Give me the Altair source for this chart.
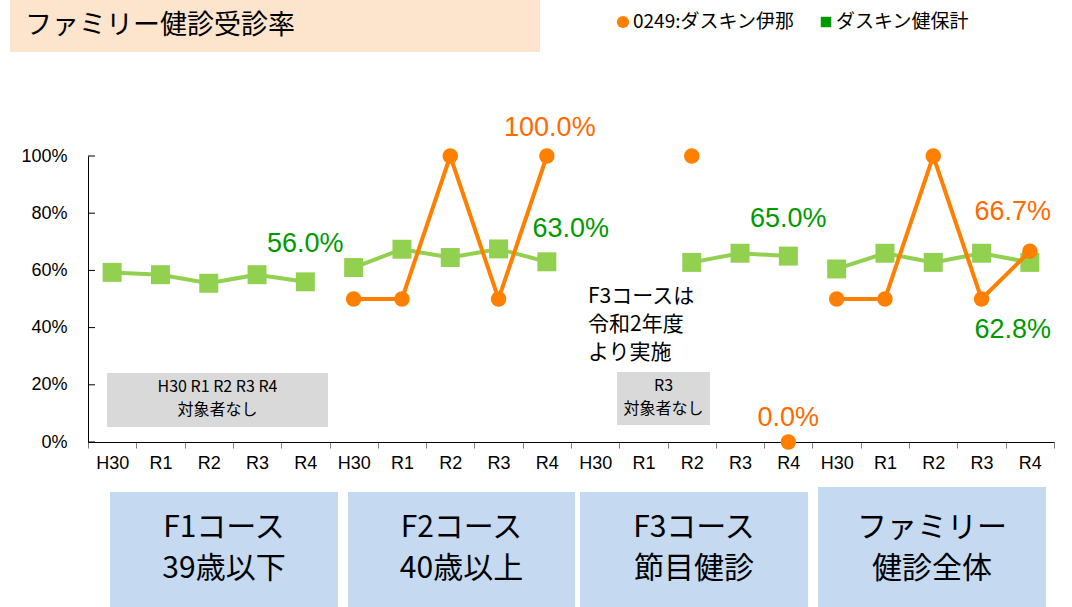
import altair as alt
import pandas as pd

# ---- data ----
groups = ["F1", "F2", "F3", "ALL"]
periods = ["H30", "R1", "R2", "R3", "R4"]
kenpo = {
    "F1": [59.3, 58.5, 55.5, 58.5, 56.0],
    "F2": [61.0, 67.4, 64.5, 67.5, 63.0],
    "F3": [None, None, 62.8, 66.0, 65.0],
    "ALL": [60.5, 66.0, 62.8, 66.0, 62.8],
}
ina = {
    "F1": [None, None, None, None, None],
    "F2": [50.0, 50.0, 100.0, 50.0, 100.0],
    "F3": [None, None, 100.0, None, 0.0],
    "ALL": [50.0, 50.0, 100.0, 50.0, 66.7],
}
series_names = ["0249:ダスキン伊那", "ダスキン健保計"]
y_ticks = [0, 20, 40, 60, 80, 100]
# labels: (group, period, series, text)
value_labels = [
    ("F1", "R4", "kenpo", "56.0%"),
    ("F2", "R4", "kenpo", "63.0%"),
    ("F2", "R4", "ina", "100.0%"),
    ("F3", "R4", "kenpo", "65.0%"),
    ("F3", "R4", "ina", "0.0%"),
    ("ALL", "R4", "ina", "66.7%"),
    ("ALL", "R4", "kenpo", "62.8%"),
]
course_titles = ["F1コース\n39歳以下", "F2コース\n40歳以上", "F3コース\n節目健診", "ファミリー\n健診全体"]
title_text = "ファミリー健診受診率"

keys = [f"{g}|{p}" for g in groups for p in periods]

ORANGE = "#FF8000"
ORANGE_TXT = "#FF6A00"
GREEN = "#92D050"
GREEN_TXT = "#009A00"
JP = "Noto Sans CJK JP"
LAT = "Liberation Sans"

rows = []
for sname, src in (("ina", ina), ("kenpo", kenpo)):
    for g in groups:
        run = 0
        prev = None
        for p, v in zip(periods, src[g]):
            if v is None:
                prev = None
                continue
            if prev is None:
                run += 1
            prev = v
            rows.append({"key": f"{g}|{p}", "series": sname, "value": v, "seg": f"{sname}-{g}-{run}"})
df = pd.DataFrame(rows)

W, H = 966, 286

xscale = alt.Scale(domain=keys, paddingInner=0, paddingOuter=0)
yscale = alt.Scale(domain=[0, 100], nice=False)

X = alt.X("key:N", scale=xscale, sort=keys,
          axis=alt.Axis(title=None, labelExpr="split(datum.value, '|')[1]", labelAngle=0,
                        tickBand="extent", tickSize=6, tickColor="#7f7f7f", domainColor="#000000",
                        labelFont=LAT, labelFontSize=18, labelColor="#000000", labelPadding=6,
                        grid=False))
Y = alt.Y("value:Q", scale=yscale,
          axis=alt.Axis(title=None, values=y_ticks, labelExpr="datum.value + '%'", tickSize=0,
                        labelFont=LAT, labelFontSize=18, labelColor="#000000", labelPadding=21,
                        domainColor="#000000", grid=False))

base = alt.Chart(df)

green_line = base.transform_filter("datum.series == 'kenpo'").mark_line(
    color=GREEN, strokeWidth=4).encode(x=X, y=Y, detail="seg:N")
orange_line = base.transform_filter("datum.series == 'ina'").mark_line(
    color=ORANGE, strokeWidth=4).encode(x=X, y=Y, detail="seg:N")
green_pts = base.transform_filter("datum.series == 'kenpo'").mark_point(
    shape="square", filled=True, opacity=1, color=GREEN, size=360).encode(x=X, y=Y)
orange_pts = base.transform_filter("datum.series == 'ina'").mark_point(
    shape="circle", filled=True, opacity=1, color=ORANGE, size=240).encode(x=X, y=Y)

# y-axis inward ticks
tick_df = pd.DataFrame({"value": y_ticks})
yticks = alt.Chart(tick_df).mark_rule(color="#000000", strokeWidth=1).encode(
    y=alt.Y("value:Q", scale=yscale), x=alt.value(0), x2=alt.value(7))

# value labels
offsets = {
    "56.0%": (0, -38), "63.0%": (24, -33), "100.0%": (3, -28), "65.0%": (0, -37),
    "0.0%": (0, -24), "66.7%": (-17, -39), "62.8%": (-17, 68),
}
label_layers = []
for g, p, s, t in value_labels:
    v = (kenpo if s == "kenpo" else ina)[g][periods.index(p)]
    ldf = pd.DataFrame([{"key": f"{g}|{p}", "value": v, "text": t}])
    dx, dy = offsets[t]
    label_layers.append(alt.Chart(ldf).mark_text(
        font=LAT, fontSize=27, color=GREEN_TXT if s == "kenpo" else ORANGE_TXT,
        dx=dx, dy=dy, align="center", baseline="middle").encode(
        x=alt.X("key:N", scale=xscale, sort=keys), y=alt.Y("value:Q", scale=yscale), text="text:N"))

one = pd.DataFrame([{"a": 1}])


def rect(x, x2, y, y2, color):
    return alt.Chart(one).mark_rect(color=color).encode(
        x=alt.value(x), x2=alt.value(x2), y=alt.value(y), y2=alt.value(y2))


def text(x, y, t, size, color="#000000", align="center", font=JP, lh=None):
    kw = dict(font=font, fontSize=size, color=color, align=align, baseline="middle", lineBreak="\n")
    if lh:
        kw["lineHeight"] = lh
    return alt.Chart(one).mark_text(**kw).encode(
        x=alt.value(x), y=alt.value(y), text=alt.value(t))


deco = []
# title
deco.append(rect(-78, 452, -156, -104, "#FDE5CD"))
deco.append(text(-63, -130, title_text, 27, align="left"))
# legend
deco.append(alt.Chart(one).mark_point(shape="circle", filled=True, opacity=1, color=ORANGE, size=150).encode(
    x=alt.value(535), y=alt.value(-134)))
deco.append(text(545, -134, series_names[0], 19, align="left"))
deco.append(alt.Chart(one).mark_point(shape="square", filled=True, opacity=1, color="#009900", size=110).encode(
    x=alt.value(738), y=alt.value(-134)))
deco.append(text(748, -134, series_names[1], 19, align="left"))
# gray boxes
deco.append(rect(19, 240, 217, 271, "#D9D9D9"))
deco.append(text(129.5, 231, "H30 R1 R2 R3 R4\n対象者なし", 16, lh=23))
deco.append(rect(529, 622, 216, 269, "#D9D9D9"))
deco.append(text(575.5, 230, "R3\n対象者なし", 16, lh=23))
# F3 note
deco.append(text(500, 141, "F3コースは\n令和2年度\nより実施", 21, align="left", lh=28))
# course boxes
box_x = [(22, 250, 336), (260, 487, 336), (492, 720, 336), (730, 958, 331)]
for (x1, x2, y1), t in zip(box_x, course_titles):
    deco.append(rect(x1, x2, y1, 451, "#C5D9F1"))
    deco.append(text((x1 + x2) / 2, 372, t, 30, lh=41))

chart = alt.layer(
    *deco, yticks, green_line, green_pts, orange_line, orange_pts, *label_layers
).properties(
    width=W, height=H,
    background="white",
    autosize=alt.AutoSizeParams(type="none"),
    padding={"left": 88, "top": 156, "right": 18, "bottom": 165},
).configure_view(stroke=None)

chart.save("out.html", embed_options={"renderer": "svg", "actions": False})
